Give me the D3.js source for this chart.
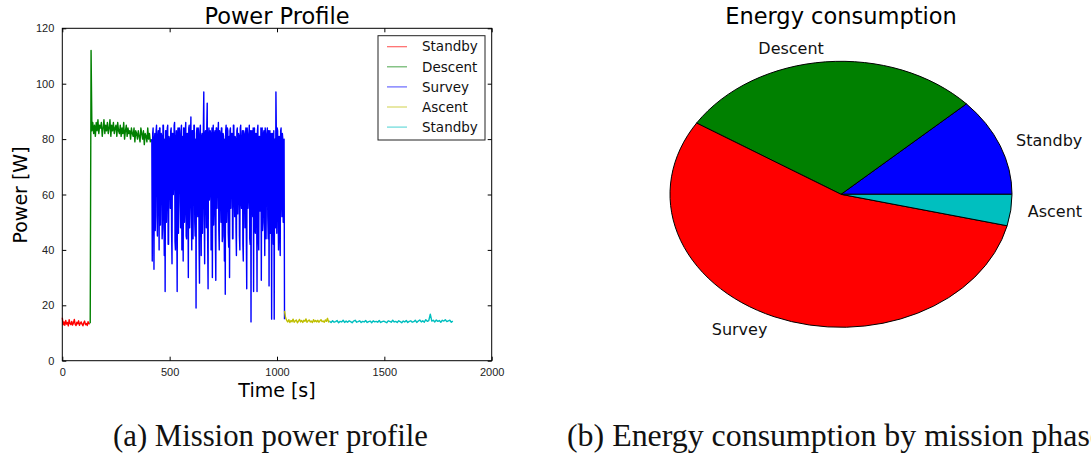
<!DOCTYPE html>
<html>
<head>
<meta charset="utf-8">
<script src="https://cdn.jsdelivr.net/npm/d3@7"></script>
<style>
  body { margin: 0; background: #fff; }
  svg { display: block; font-family: "DejaVu Sans", sans-serif; }
  .tick text { font-size: 11px; fill: #222; }
  .caption { font-family: "Liberation Serif", "DejaVu Serif", serif; font-size: 30.5px; fill: #111; }
</style>
</head>
<body>
<svg width="1091" height="453"></svg>
<script>
const standby1Values = [15.5, 13, 14, 12.8, 14.5, 13.2, 13.8, 12.6, 14.8, 13.4, 13, 14.2, 12.9, 13.6, 14.9, 13.1,
  12.7, 13.9, 13.3, 14.4, 12.8, 13.5, 14, 13.2, 12.6, 13.7, 14.3, 13, 13.4, 12.7, 14.1, 13.3, 13.5];
const descentValues = [13.5, 112, 83, 86, 82, 85, 81, 86, 83, 87, 82, 85, 84, 86, 81, 84, 87, 82, 85, 83, 86, 82,
  84, 87, 81, 85, 83, 86, 82, 84, 85, 81, 86, 83, 82, 85, 81, 84, 82, 86, 80, 83, 85, 81, 84, 82, 83, 80, 84, 82,
  81, 84, 79, 83, 82, 80, 83, 81, 79, 84, 82, 80, 83, 78, 82, 81, 79, 84, 80, 82, 79, 80];
const surveyValues = [
  80, 79, 36, 82, 84, 58, 33, 80, 82, 47, 73, 83, 85, 52, 45, 81, 83, 64, 40, 84, 84, 49, 70, 82, 81, 44, 48, 85, 85, 57, 38, 80, 25, 83, 83, 50, 60, 84, 85, 42,
  42, 81, 80, 66, 55, 83, 84, 47, 35, 82, 82, 60, 66, 85, 86, 43, 40, 80, 83, 54, 25, 82, 84, 46, 72, 84, 81, 57, 48, 83, 85, 40, 62, 81, 36, 84, 84, 50, 55, 83,
  86, 45, 44, 82, 82, 63, 30, 84, 85, 48, 58, 81, 88, 55, 40, 83, 83, 44, 67, 85, 85, 50, 45, 80, 19, 82, 84, 60, 52, 84, 81, 42, 28, 83, 85, 56, 38, 81, 82, 46,
  60, 84, 97, 52, 35, 82, 83, 64, 48, 85, 93, 44, 26, 81, 84, 58, 62, 83, 82, 40, 42, 84, 30, 80, 85, 49, 56, 82, 83, 45, 29, 84, 84, 55, 65, 81, 86, 47, 40, 83,
  82, 61, 50, 84, 84, 43, 45, 82, 81, 57, 36, 80, 24, 83, 85, 50, 58, 84, 83, 46, 41, 81, 30, 83, 84, 55, 66, 82, 82, 44, 44, 85, 85, 60, 52, 81, 80, 48, 38, 83,
  84, 53, 62, 82, 81, 45, 40, 84, 85, 58, 55, 80, 83, 42, 36, 83, 82, 63, 48, 81, 84, 46, 26, 84, 81, 55, 60, 82, 85, 44, 42, 83, 14, 80, 83, 57, 52, 84, 25, 81,
  84, 48, 46, 82, 82, 60, 25, 83, 85, 45, 40, 81, 81, 54, 62, 84, 29, 80, 84, 47, 50, 82, 83, 59, 38, 84, 82, 44, 66, 81, 84, 52, 44, 83, 27, 80, 83, 46, 58, 82,
  15, 81, 82, 55, 42, 83, 15, 80, 80, 48, 97, 82, 46, 84, 83, 57, 40, 81, 81, 45, 38, 83, 84, 60, 52, 82, 80, 50, 79, 80, 15];
const ascentValues = [18, 15.5, 14.6, 14, 14.8, 13.8, 14.5, 14.1, 15, 13.9, 14.4, 14.7, 13.7, 14.3, 14.9, 14, 14.5,
  13.8, 14.6, 14.2, 15.1, 13.9, 14.4, 14.7, 14, 14.3, 13.8, 14.8, 14.1, 14.5, 14, 14.6, 13.9, 14.4, 14.8, 14.1,
  14.3, 13.9, 14.7, 14.2, 15.3, 14, 14.4];
const standby2Values = [14.2, 13.8, 14.4, 13.9, 14.1, 14.5, 13.7, 14.2, 14, 14.6, 13.8, 14.3, 13.9, 14.4, 14.1,
  13.7, 14.3, 14.6, 13.9, 14.1, 14.4, 13.8, 14.2, 14, 14.5, 13.8, 14.1, 14.3, 13.7, 14.4, 14, 14.2, 13.9, 14.5,
  13.8, 14.1, 14.3, 14, 13.7, 14.4, 14.2, 13.9, 14.6, 14, 14.2, 13.8, 14.4, 14.1, 13.7, 14.3, 14, 14.5, 13.8,
  14.2, 14.4, 13.9, 14.1, 14.6, 13.8, 14.3, 14.7, 14, 14.4, 13.9, 14.8, 14.2, 14.5, 16.8, 14.3, 14.6, 14, 14.7,
  14.2, 14.5, 13.9, 14.6, 14.3, 14.8, 14.1, 14.4, 14.6, 13.9, 14.3];

const phaseNames = ["Standby", "Descent", "Survey", "Ascent", "Standby"];
const phaseColors = ["#ff0000", "#008000", "#0000ff", "#bfbf00", "#00bfbf"];
const phaseStart = [0, 130, 415, 1035, 1245];   // s
const phaseStep = [4, 4, 2, 5, 7];              // s between samples
const phaseValues = [standby1Values, descentValues, surveyValues, ascentValues, standby2Values];

const xTicks = [0, 500, 1000, 1500, 2000];
const yTicks = [0, 20, 40, 60, 80, 100, 120];

// ---- energy per phase (pie), percent
const pieLabels = ["Standby", "Descent", "Survey", "Ascent"];
const pieValues = [11.9, 29.1, 55.2, 3.8];
const pieColors = ["#0000ff", "#008000", "#ff0000", "#00bfbf"];

const svg = d3.select("svg");

// ================= left: power profile =================
const x = d3.scaleLinear().domain([0, 2000]).range([62.3, 491.7]);
const y = d3.scaleLinear().domain([0, 120]).range([360.7, 28.3]);
const left = svg.append("g");

const line = d3.line().x(d => x(d[0])).y(d => y(d[1]));
phaseValues.forEach((vals, k) => {
  const pts = vals.map((v, i) => [phaseStart[k] + i * phaseStep[k], v]);
  left.append("path")
    .attr("d", line(pts))
    .attr("fill", "none")
    .attr("stroke", phaseColors[k])
    .attr("stroke-width", 1.4)
    .attr("stroke-linejoin", "round");
});

// ticks point inward on all four sides (matplotlib classic)
const fmt = d3.format("d");
left.append("g").attr("transform", `translate(0,${y(0)})`)
  .call(d3.axisBottom(x).tickValues(xTicks).tickFormat(fmt).tickSizeInner(-4).tickSizeOuter(0).tickPadding(8))
  .call(g => g.select(".domain").remove());
left.append("g").attr("transform", `translate(0,${y(120)})`)
  .call(d3.axisTop(x).tickValues(xTicks).tickSizeInner(-4).tickSizeOuter(0).tickFormat(""))
  .call(g => g.select(".domain").remove());
left.append("g").attr("transform", `translate(${x(0)},0)`)
  .call(d3.axisLeft(y).tickValues(yTicks).tickFormat(fmt).tickSizeInner(-4).tickSizeOuter(0).tickPadding(8))
  .call(g => g.select(".domain").remove());
left.append("g").attr("transform", `translate(${x(2000)},0)`)
  .call(d3.axisRight(y).tickValues(yTicks).tickSizeInner(-4).tickSizeOuter(0).tickFormat(""))
  .call(g => g.select(".domain").remove());
left.selectAll(".tick line").attr("stroke", "#000");
left.selectAll(".tick text").attr("font-family", null).attr("font-size", null);

left.append("rect")
  .attr("x", x(0)).attr("y", y(120))
  .attr("width", x(2000) - x(0)).attr("height", y(0) - y(120))
  .attr("fill", "none").attr("stroke", "#000").attr("stroke-width", 1);

left.append("text").attr("x", 277).attr("y", 23.5).attr("text-anchor", "middle")
  .attr("font-size", 22.5).text("Power Profile");
left.append("text").attr("x", 277).attr("y", 397).attr("text-anchor", "middle")
  .attr("font-size", 19).text("Time [s]");
left.append("text").attr("transform", "translate(27,195) rotate(-90)").attr("text-anchor", "middle")
  .attr("font-size", 19).text("Power [W]");

// legend
const legend = left.append("g");
legend.append("rect").attr("x", 378).attr("y", 35.7).attr("width", 107).attr("height", 104.3)
  .attr("fill", "#fff").attr("stroke", "#222").attr("stroke-width", 1);
phaseNames.forEach((name, k) => {
  const ly = 46.7 + k * 20.1;
  legend.append("line").attr("x1", 387).attr("x2", 407).attr("y1", ly).attr("y2", ly)
    .attr("stroke", phaseColors[k]).attr("stroke-opacity", 0.6).attr("stroke-width", 1.2);
  legend.append("text").attr("x", 422).attr("y", ly).attr("dy", "0.35em")
    .attr("font-size", 13.5).attr("fill", "#111").text(name);
});

// ================= right: energy pie =================
const cx = 841, cy = 194.3, rx = 171, ry = 133;
// matplotlib pie: starts at 3 o'clock, runs counter-clockwise
const pie = d3.pie().sort(null).startAngle(Math.PI / 2).endAngle(Math.PI / 2 - 2 * Math.PI);
const arcs = pie(pieValues);
const arc = d3.arc().innerRadius(0).outerRadius(rx);

const right = svg.append("g");
right.append("g").attr("transform", `translate(${cx},${cy}) scale(1,${ry / rx})`)
  .selectAll("path").data(arcs).join("path")
  .attr("d", arc)
  .attr("fill", (d, i) => pieColors[i])
  .attr("stroke", "#000").attr("stroke-width", 1)
  .attr("vector-effect", "non-scaling-stroke");

right.selectAll("text.lbl").data(arcs).join("text")
  .attr("class", "lbl")
  .each(function (d, i) {
    const th = Math.PI / 2 - (d.startAngle + d.endAngle) / 2;
    const lx = cx + 1.1 * rx * Math.cos(th);
    const ly = cy - 1.1 * ry * Math.sin(th);
    d3.select(this).attr("x", lx).attr("y", ly).attr("dy", "0.35em")
      .attr("text-anchor", Math.cos(th) > 0 ? "start" : "end")
      .attr("font-size", 16).attr("fill", "#111").text(pieLabels[i]);
  });

right.append("text").attr("x", 841).attr("y", 23.5).attr("text-anchor", "middle")
  .attr("font-size", 22.5).text("Energy consumption");

// ================= captions =================
svg.append("text").attr("class", "caption").attr("x", 113).attr("y", 446)
  .attr("textLength", 315).attr("lengthAdjust", "spacingAndGlyphs")
  .text("(a) Mission power profile");
svg.append("text").attr("class", "caption").attr("x", 567).attr("y", 446)
  .attr("textLength", 537).attr("lengthAdjust", "spacingAndGlyphs")
  .text("(b) Energy consumption by mission phase");
</script>
</body>
</html>
